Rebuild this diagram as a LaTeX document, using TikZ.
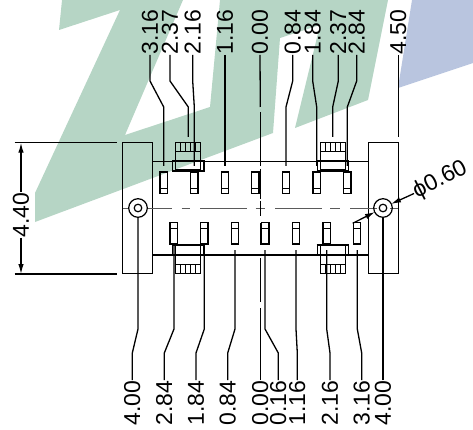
\documentclass[tikz,border=0pt]{standalone}
\usepackage{fontspec}
\usetikzlibrary{arrows.meta}
\setmainfont{Liberation Sans}
\definecolor{zgreen}{HTML}{B6D5C5}
\definecolor{zblue}{HTML}{B9C5DF}
\definecolor{axisgray}{HTML}{5A5A5A}
\begin{document}
\begin{tikzpicture}[x=1pt,y=-1pt]
        \tikzstyle{every path}=[line width=1.2pt]
        \tikzstyle{block}=[draw, inner sep=0pt, minimum width=30pt, minimum height=131pt]
        \tikzstyle{toplabel}=[rotate=90, anchor=west, inner sep=0pt, font=\fontsize{23}{23}\selectfont]
        \tikzstyle{botlabel}=[rotate=90, anchor=east, inner sep=0pt, font=\fontsize{23}{23}\selectfont]
        \tikzstyle{leader}=[line width=1.3pt]
        \tikzstyle{axis}=[line width=0.8pt, draw=axisgray]
        \tikzstyle{center}=[line width=1pt]
        \tikzstyle{dimtip}=[-{Latex[length=10pt,width=5.5pt]}]
        \tikzstyle{pintop}=[draw, inner sep=0pt, minimum width=7.3pt, minimum height=21.3pt,
            path picture={\draw (path picture bounding box.south west)++(0,-5) -- ++(8,0);}]
        \tikzstyle{pinbot}=[draw, inner sep=0pt, minimum width=7.3pt, minimum height=21.3pt,
            path picture={\draw (path picture bounding box.north west)++(0,5.6) -- ++(8,0);}]
        \tikzstyle{clipbase}=[draw, inner sep=0pt, minimum width=31.3pt, minimum height=9.5pt]
        \tikzstyle{cliptop}=[draw, line width=1.3pt, inner sep=0pt, minimum width=25pt, minimum height=27.3pt,
            path picture={\draw (path picture bounding box.north west)++(0,9) -- ++(25,0);
                \foreach \i in {5,10,15,20} \draw (path picture bounding box.north west)++(\i,0) -- ++(0,9);}]
        \tikzstyle{clipbot}=[draw, line width=1.3pt, inner sep=0pt, minimum width=25pt, minimum height=28.3pt,
            path picture={\draw (path picture bounding box.south west)++(0,-9) -- ++(25,0);
                \foreach \i in {5,10,15,20} \draw (path picture bounding box.south west)++(\i,0) -- ++(0,-9);}]
        \tikzstyle{holeout}=[circle, draw, inner sep=0pt, minimum size=18.6pt]
        \tikzstyle{holein}=[circle, draw, inner sep=0pt, minimum size=7.6pt]
        \useasboundingbox (0,0) rectangle (473,430);
        % watermark
        \fill[zgreen] (62,0) -- (183,0) -- (125,135) -- (210,107) -- (220,0) -- (388,0) -- (368,100) -- (295,128)
            -- (320,25) -- (280,38) -- (273,133) -- (35,222) -- (35,193) -- (120,10) -- (59,30) -- cycle;
        \fill[zblue] (412,0) -- (473,0) -- (473,63) -- (398,88) -- cycle;
        % housing
        \node[block] (blockL) at (137.7,208.3) {};
        \node[block] (blockR) at (383.3,208.3) {};
        \coordinate (bodyTL) at (blockL.east |- 0,161.3);
        \coordinate (bodyTR) at (blockR.west |- 0,161.3);
        \coordinate (bodyBL) at (blockL.east |- 0,255);
        \coordinate (bodyBR) at (blockR.west |- 0,255);
        \draw (bodyTL) -- (bodyTR);
        \draw (bodyBL) -- (bodyBR);
        % axes
        \draw[axis] (122.7,208) -- (128.3,208);
        \draw[axis] (147.3,208) -- (171.7,208);
        \draw[axis] (181.7,208) -- (190,208);
        \draw[axis] (200,208) -- (246.7,208);
        \draw[axis] (255.7,208) -- (265,208);
        \draw[axis] (275,208) -- (321.7,208);
        \draw[axis] (330,208) -- (340,208);
        \draw[axis] (350,208) -- (376.7,208);
        \draw[axis] (390,208) -- (398,208);
        \draw[center] (260.3,112) -- (260.3,166);
        \draw[center] (260.3,169) -- (260.3,199);
        \draw[center] (260.3,201) -- (260.3,216);
        \draw[center] (260.3,223) -- (260.3,245);
        \draw[center] (260.3,258) -- (260.3,302);
        % pins
        \node[pintop] (pt1) at (163.7,182.7) {};
        \node[pintop] (pt2) at (194.3,182.7) {};
        \node[pintop] (pt3) at (225,182.7) {};
        \node[pintop] (pt4) at (255.3,182.7) {};
        \node[pintop] (pt5) at (286,182.7) {};
        \node[pintop] (pt6) at (316.7,182.7) {};
        \node[pintop] (pt7) at (347.3,182.7) {};
        \node[pinbot] (pb1) at (173.7,233.3) {};
        \node[pinbot] (pb2) at (204.3,233.3) {};
        \node[pinbot] (pb3) at (235,233.3) {};
        \node[pinbot] (pb4) at (265.3,233.3) {};
        \node[pinbot] (pb5) at (296,233.3) {};
        \node[pinbot] (pb6) at (326.7,233.3) {};
        \node[pinbot] (pb7) at (357,233.3) {};
        % clips
        \node[clipbase] (baseTL) at (188.3,165.6) {};
        \node[clipbase] (baseTR) at (332.8,165.6) {};
        \node[clipbase] (baseBL) at (188.3,250) {};
        \node[clipbase] (baseBR) at (332.8,250) {};
        \node[cliptop] (clipTL) at (188.3,156.4) {};
        \node[cliptop] (clipTR) at (332.8,156.4) {};
        \node[clipbot] (clipBL) at (188.3,259.2) {};
        \node[clipbot] (clipBR) at (332.8,259.2) {};
        \draw[line width=1.8pt] (baseTL.south west) -- (baseTL.south east);
        \draw[line width=1.8pt] (baseTR.south west) -- (baseTR.south east);
        \draw[line width=1.8pt] (baseBL.north west) -- (baseBL.north east);
        \draw[line width=1.8pt] (baseBR.north west) -- (baseBR.north east);
        % holes
        \node[holeout] (holeL) at (138,208) {};
        \node[holein] (holeLi) at (138,208) {};
        \node[holeout] (holeR) at (383,208) {};
        \node[holein] (holeRi) at (383,208) {};
        % top labels
        \node[toplabel] (t316) at (150,55) {3.16};
        \node[toplabel] (t237a) at (170,55) {2.37};
        \node[toplabel] (t216) at (192.7,55) {2.16};
        \node[toplabel] (t116) at (225,55) {1.16};
        \node[toplabel] (t000) at (260,55) {0.00};
        \node[toplabel] (t084) at (292.7,55) {0.84};
        \node[toplabel] (t184) at (312.7,55) {1.84};
        \node[toplabel] (t237b) at (338.3,55) {2.37};
        \node[toplabel] (t284) at (356.7,55) {2.84};
        \node[toplabel] (t450) at (398.3,55) {4.50};
        \coordinate (et316) at (163.7,166);
        \coordinate (et237a) at (188.3,137);
        \coordinate (et216) at (194.3,166);
        \coordinate (et116) at (225,166);
        \coordinate (et000) at (260.3,107);
        \coordinate (et084) at (286,166);
        \coordinate (et184) at (316.7,166);
        \coordinate (et237b) at (332.7,137);
        \coordinate (et284) at (347.3,166);
        \coordinate (et450) at (398.3,137);
        \draw[leader] (t316.west) -- (150,81) -- (163.7,107) -- (et316);
        \draw[leader] (t237a.west) -- (170,81) -- (188.3,107) -- (et237a);
        \draw[leader] (t216.west) -- (192.7,81) -- (194.3,107) -- (et216);
        \draw[leader] (t116.west) -- (et116);
        \draw[leader] (t000.west) -- (et000);
        \draw[leader] (t084.west) -- (292.7,81) -- (286,107) -- (et084);
        \draw[leader] (t184.west) -- (312.7,81) -- (316.7,107) -- (et184);
        \draw[leader] (t237b.west) -- (338.3,81) -- (332.7,107) -- (et237b);
        \draw[leader] (t284.west) -- (356.7,81) -- (347.3,107) -- (et284);
        \draw[leader] (t450.west) -- (et450);
        % bottom labels
        \node[botlabel] (b400a) at (132.3,380) {4.00};
        \node[botlabel] (b284) at (164.3,380) {2.84};
        \node[botlabel] (b184) at (196,380) {1.84};
        \node[botlabel] (b084) at (227.7,380) {0.84};
        \node[botlabel] (b000) at (260.3,380) {0.00};
        \node[botlabel] (b016) at (278.3,380) {0.16};
        \node[botlabel] (b116) at (297.3,380) {1.16};
        \node[botlabel] (b216) at (330,380) {2.16};
        \node[botlabel] (b316) at (361.7,380) {3.16};
        \node[botlabel] (b400b) at (383,380) {4.00};
        \coordinate (eb284) at (174,245);
        \coordinate (eb184) at (204.3,245);
        \coordinate (eb084) at (235,250);
        \coordinate (eb000) at (260.3,308);
        \coordinate (eb016) at (265,250);
        \coordinate (eb116) at (296,250);
        \coordinate (eb216) at (326.7,250);
        \coordinate (eb316) at (357.3,250);
        \draw[leader] (b400a.east) -- (132.3,353) -- (138,329) -- (holeL.south);
        \draw[leader] (b284.east) -- (164.3,353) -- (174,329) -- (eb284);
        \draw[leader] (b184.east) -- (196,353) -- (204.3,329) -- (eb184);
        \draw[leader] (b084.east) -- (227.7,353) -- (235,329) -- (eb084);
        \draw[leader] (b000.east) -- (eb000);
        \draw[leader] (b016.east) -- (278.3,353) -- (265,329) -- (eb016);
        \draw[leader] (b116.east) -- (297.3,353) -- (296,329) -- (eb116);
        \draw[leader] (b216.east) -- (330,353) -- (326.7,329) -- (eb216);
        \draw[leader] (b316.east) -- (361.7,353) -- (357.3,329) -- (eb316);
        \draw[leader] (b400b.east) -- (holeR.south);
        % 4.40
        \node[rotate=90, inner sep=0pt, font=\fontsize{23}{23}\selectfont] (d440) at (21,215) {4.40};
        \coordinate (extTa) at (14.7,142.7);
        \coordinate (extTb) at (117,142.7);
        \coordinate (extBa) at (14.7,274);
        \coordinate (extBb) at (117,274);
        \coordinate (dimT) at (21,142.7);
        \coordinate (dimB) at (21,274);
        \draw[leader] (extTa) -- (extTb);
        \draw[leader] (extBa) -- (extBb);
        \draw[leader, dimtip] (d440.east) -- (dimT);
        \draw[leader, dimtip] (d440.west) -- (dimB);
        % 0.60
        \node[rotate=27, anchor=west, inner sep=0pt, font=\fontsize{23}{23}\selectfont] (d060) at (414,193.5) {ϕ0.60};
        \coordinate (tipA) at (391,204);
        \coordinate (tipB) at (375,212);
        \coordinate (tailB) at (352.7,223.3);
        \draw[leader, dimtip] (d060.west) -- (tipA);
        \draw[leader, dimtip] (tailB) -- (tipB);
\end{tikzpicture}
\end{document}
